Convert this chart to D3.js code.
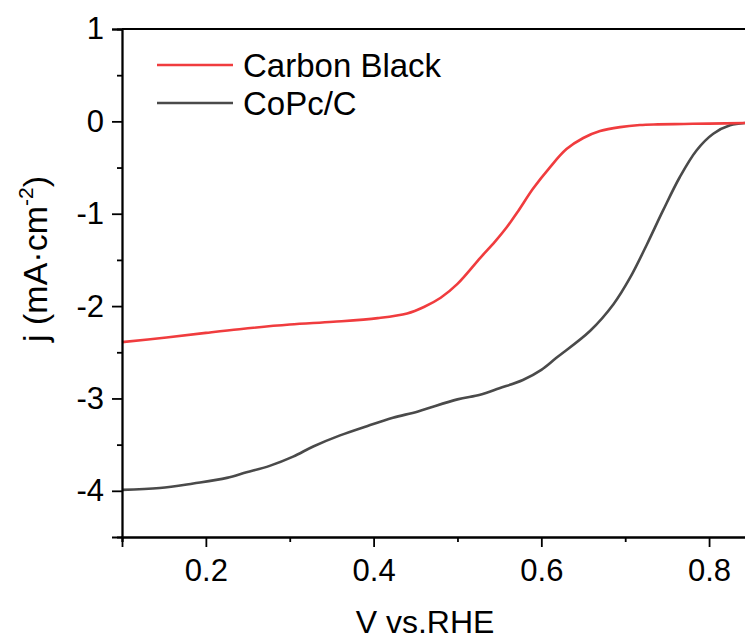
<!DOCTYPE html>
<html>
<head>
<meta charset="utf-8">
<script src="https://cdn.jsdelivr.net/npm/d3@7"></script>
<style>
body { margin: 0; background: #fff; }
text { font-family: "Liberation Sans", Arial, sans-serif; fill: #000; }
</style>
</head>
<body>
<div class="chartfield"></div>
<script>
// Carbon Black curve (V vs RHE, mA/cm2)
var cbV = [0.10,0.153,0.20,0.24,0.30,0.352,0.405,0.44,0.46,0.48,0.50,0.5275,0.545,0.5585,0.5725,0.59,0.61,0.63,0.65,0.67,0.694,0.7175,0.739,0.77,0.80,0.845];
var cbJ = [-2.39,-2.34,-2.29,-2.25,-2.20,-2.17,-2.13,-2.08,-2.01,-1.91,-1.76,-1.475,-1.30,-1.15,-0.97,-0.73,-0.50,-0.30,-0.18,-0.105,-0.062,-0.040,-0.033,-0.028,-0.024,-0.018];
// CoPc/C curve
var coV = [0.10,0.145,0.185,0.225,0.2485,0.276,0.304,0.328,0.36,0.392,0.423,0.453,0.50,0.527,0.55,0.578,0.60,0.618,0.658,0.686,0.706,0.726,0.745,0.765,0.785,0.805,0.825,0.843];
var coJ = [-3.99,-3.97,-3.92,-3.86,-3.80,-3.73,-3.63,-3.52,-3.40,-3.30,-3.21,-3.14,-3.01,-2.96,-2.89,-2.80,-2.69,-2.56,-2.27,-1.98,-1.69,-1.33,-0.967,-0.605,-0.315,-0.134,-0.043,-0.018];

var seriesNames = ["Carbon Black", "CoPc/C"];
var seriesColors = ["#f03c3e", "#4a4a4a"];
var xMajor = [0.2, 0.4, 0.6, 0.8];
var xMinor = [0.1, 0.3, 0.5, 0.7];
var yMajor = [1, 0, -1, -2, -3, -4];
var yMinor = [0.5, -0.5, -1.5, -2.5, -3.5];

var width = 745, height = 639;
var padL = 122, padT = 29, padR = 751, padB = 537;

var svg = d3.select(".chartfield").append("svg")
	.attr("width", width)
	.attr("height", height);

var x = d3.scaleLinear().domain([0.1, 0.85]).range([padL, padR]);
var y = d3.scaleLinear().domain([-4.5, 1]).range([padB, padT]);

function zip(a, b) {
	return a.map(function(v, i) { return [v, b[i]]; });
}

var line = d3.line()
	.x(function(d) { return x(d[0]); })
	.y(function(d) { return y(d[1]); })
	.curve(d3.curveCatmullRom.alpha(0.5));

var series = [zip(cbV, cbJ), zip(coV, coJ)];

// curves (CoPc first so red sits on top at the right end)
svg.selectAll("path.curve")
	.data([1, 0])
	.enter().append("path")
	.attr("class", "curve")
	.attr("d", function(i) { return line(series[i]); })
	.attr("fill", "none")
	.attr("stroke", function(i) { return seriesColors[i]; })
	.attr("stroke-width", 2.6);

// axes
var yAxis = svg.append("g").attr("transform", "translate(" + padL + ",0)")
	.call(d3.axisLeft(y).tickValues(yMajor).tickSize(10).tickPadding(8).tickFormat(d3.format("d")));
svg.append("g").attr("transform", "translate(" + padL + ",0)")
	.call(d3.axisLeft(y).tickValues(yMinor).tickSize(5).tickFormat(""));

var xAxis = svg.append("g").attr("transform", "translate(0," + padB + ")")
	.call(d3.axisBottom(x).tickValues(xMajor).tickSize(10).tickPadding(12).tickFormat(d3.format(".1f")));
svg.append("g").attr("transform", "translate(0," + padB + ")")
	.call(d3.axisBottom(x).tickValues(xMinor).tickSize(5).tickFormat(""));

svg.selectAll(".domain").attr("stroke", "#000").attr("stroke-width", 1.8);
svg.selectAll(".tick line").attr("stroke", "#000").attr("stroke-width", 1.8);
svg.selectAll(".tick text").attr("font-size", 31).attr("font-family", "Liberation Sans, Arial, sans-serif").attr("fill", "#000");
// minus sign as plain hyphen
yAxis.selectAll(".tick text").text(function(d) { return d < 0 ? "-" + Math.abs(d) : d; });

// top frame line
svg.append("line")
	.attr("x1", padL).attr("x2", padR)
	.attr("y1", padT).attr("y2", padT)
	.attr("stroke", "#000").attr("stroke-width", 1.8);

// axis titles
svg.append("text")
	.attr("x", 425)
	.attr("y", 633)
	.attr("text-anchor", "middle")
	.attr("font-size", 32)
	.text("V vs.RHE");

var yt = svg.append("text")
	.attr("transform", "translate(47,259) rotate(-90)")
	.attr("text-anchor", "middle")
	.attr("font-size", 34);
yt.append("tspan").text("j (mA·cm");
yt.append("tspan").attr("font-size", 21).attr("dy", -14).text("-2");
yt.append("tspan").attr("dy", 14).text(")");

// legend
var legend = svg.selectAll("g.legend")
	.data(seriesNames)
	.enter().append("g")
	.attr("class", "legend")
	.attr("transform", function(d, i) { return "translate(157," + (65 + i * 38) + ")"; });
legend.append("line")
	.attr("x1", 0).attr("x2", 76)
	.attr("stroke", function(d, i) { return seriesColors[i]; })
	.attr("stroke-width", 2.6);
legend.append("text")
	.attr("x", 86)
	.attr("dy", "0.36em")
	.attr("font-size", 33)
	.text(function(d) { return d; });
</script>
</body>
</html>
